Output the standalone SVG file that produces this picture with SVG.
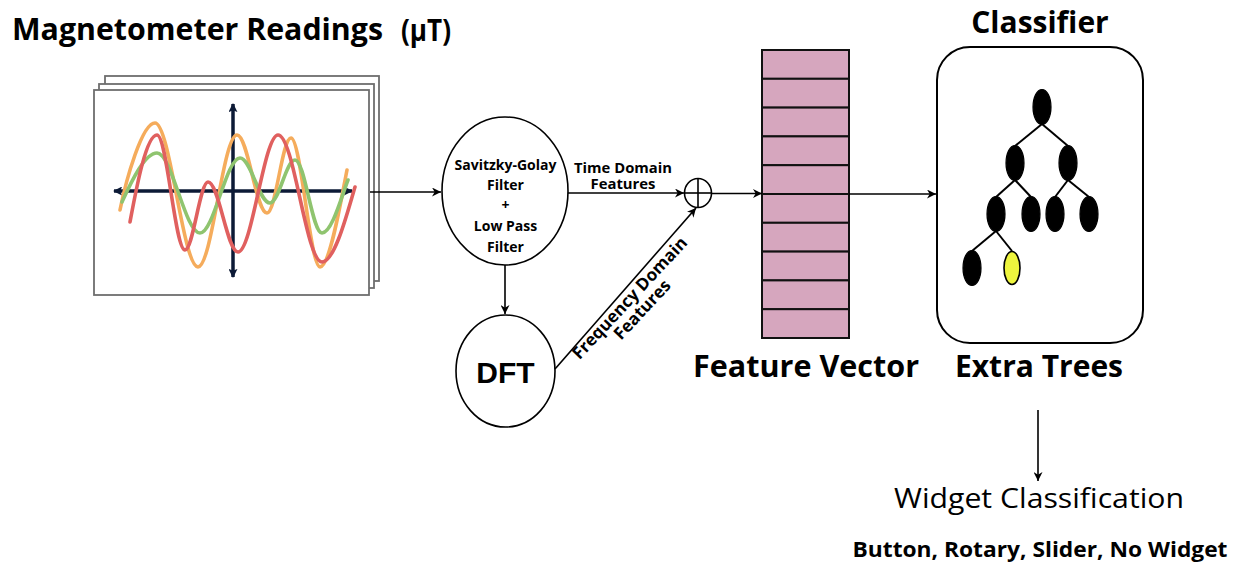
<svg xmlns="http://www.w3.org/2000/svg" width="1239" height="565" viewBox="0 0 1239 565">
  <style>
    .lbl { font-family: "Open Sans", "Liberation Sans", sans-serif; font-weight: 700; fill: #000; }
    .reg { font-family: "Open Sans", "Liberation Sans", sans-serif; font-weight: 400; fill: #000; }
    .edge { stroke: #000; stroke-width: 1.6; fill: none; }
    .node { stroke: #000; stroke-width: 1.6; fill: #fff; }
    .sheet { fill: #fff; stroke: #6e6e6e; stroke-width: 1.8; }
    .wave { fill: none; stroke-width: 3.6; stroke-linecap: round; }
    .cell { fill: #d6a6be; stroke: #111; stroke-width: 2; }
    .leaf { fill: #000; stroke: #000; stroke-width: 1.2; }
    .branch { stroke: #000; stroke-width: 2; }
  </style>
  <defs>
    <marker id="ah" viewBox="0 0 10 10" refX="10" refY="5" markerWidth="10" markerHeight="9" orient="auto" markerUnits="userSpaceOnUse">
      <path d="M0,0 L10,5 L0,10 L3,5 Z" fill="#000"/>
    </marker>
    <marker id="axh" viewBox="0 0 10 10" refX="9" refY="5" markerWidth="9" markerHeight="9" orient="auto-start-reverse" markerUnits="userSpaceOnUse">
      <path d="M0,0 L10,5 L0,10 L2,5 Z" fill="#0c1a36"/>
    </marker>
  </defs>

  <!-- Title -->
  <text class="lbl" x="12" y="40" font-size="30" textLength="371" lengthAdjust="spacingAndGlyphs">Magnetometer Readings</text>
  <text class="lbl" x="401" y="41" font-size="30" textLength="50" lengthAdjust="spacingAndGlyphs">(μT)</text>

  <!-- Stacked signal plots -->
  <g id="signal-plot">
    <rect class="sheet" x="105" y="76" width="274" height="205"/>
    <rect class="sheet" x="99" y="84" width="275" height="204"/>
    <rect class="sheet" x="94" y="90" width="275" height="205"/>
    <line x1="114" y1="191" x2="352" y2="191" stroke="#0c1a36" stroke-width="3.5" marker-start="url(#axh)" marker-end="url(#axh)"/>
    <line x1="233" y1="104" x2="233" y2="277" stroke="#0c1a36" stroke-width="3.5" marker-start="url(#axh)" marker-end="url(#axh)"/>
    <path class="wave" stroke="#f5ac5c" d="M120,210 C126,180 142,123 155,123 C170,123 183,267 198,267 C212,267 223,135 237,135 C248,135 256,213 267,213 C276,213 282,138 291,138 C301,138 310,267 320,267 C330,267 341,200 347,170"/>
    <path class="wave" stroke="#8fc46f" d="M122,202 C132,180 145,153 157,153 C172,153 185,233 200,233 C214,233 226,158 240,158 C251,158 259,203 270,203 C279,203 286,160 295,160 C305,160 312,233 322,233 C332,233 342,195 348,180"/>
    <path class="wave" stroke="#e0605f" d="M130,222 C136,190 146,135 157,135 C167,135 175,250 185,250 C193,250 200,182 208,182 C219,182 227,252 238,252 C252,252 264,135 278,135 C294,135 306,262 322,262 C335,262 348,210 355,187"/>
  </g>

  <!-- Filtering stage -->
  <g id="filter">
    <ellipse class="node" cx="505" cy="191" rx="63" ry="74"/>
    <g class="lbl" font-size="14" text-anchor="middle">
      <text x="505.5" y="170">Savitzky-Golay</text>
      <text x="505.5" y="190">Filter</text>
      <text x="505.5" y="210">+</text>
      <text x="505.5" y="231">Low Pass</text>
      <text x="505.5" y="252">Filter</text>
    </g>
  </g>

  <!-- DFT stage -->
  <g id="dft">
    <ellipse class="node" cx="505.5" cy="371" rx="49.5" ry="56"/>
    <text x="505.5" y="383" font-family="Liberation Sans, Arial, sans-serif" font-weight="700" font-size="30" text-anchor="middle">DFT</text>
  </g>

  <!-- Summation node -->
  <g id="sum">
    <ellipse class="node" cx="698" cy="193" rx="13.5" ry="14.5"/>
    <line class="edge" x1="684.5" y1="193" x2="711.5" y2="193"/>
    <line class="edge" x1="698" y1="178.5" x2="698" y2="207.5"/>
  </g>

  <!-- Feature vector -->
  <g id="feature-vector">
    <rect class="cell" x="762" y="50" width="87" height="28.8"/>
    <rect class="cell" x="762" y="78.8" width="87" height="28.8"/>
    <rect class="cell" x="762" y="107.6" width="87" height="28.8"/>
    <rect class="cell" x="762" y="136.4" width="87" height="28.8"/>
    <rect class="cell" x="762" y="165.2" width="87" height="28.8"/>
    <rect class="cell" x="762" y="194" width="87" height="28.8"/>
    <rect class="cell" x="762" y="222.8" width="87" height="28.8"/>
    <rect class="cell" x="762" y="251.6" width="87" height="28.8"/>
    <rect class="cell" x="762" y="280.4" width="87" height="28.8"/>
    <rect class="cell" x="762" y="309.2" width="87" height="28.8"/>
    <text class="lbl" x="806" y="377" font-size="30" text-anchor="middle" textLength="226" lengthAdjust="spacingAndGlyphs">Feature Vector</text>
  </g>

  <!-- Classifier -->
  <g id="classifier">
    <text class="lbl" x="1040" y="33" font-size="30" text-anchor="middle">Classifier</text>
    <rect x="937" y="47" width="206" height="296" rx="33" ry="33" fill="#fff" stroke="#000" stroke-width="2"/>
    <g class="branch">
      <line x1="1042" y1="124" x2="1015" y2="146"/>
      <line x1="1042" y1="124" x2="1068" y2="146"/>
      <line x1="1015" y1="180" x2="996" y2="197"/>
      <line x1="1015" y1="180" x2="1031" y2="197"/>
      <line x1="1068" y1="180" x2="1055" y2="197"/>
      <line x1="1068" y1="180" x2="1089" y2="197"/>
      <line x1="996" y1="231" x2="972" y2="251"/>
      <line x1="996" y1="231" x2="1012" y2="251"/>
    </g>
    <ellipse class="leaf" cx="1042" cy="107" rx="9" ry="17.5"/>
    <ellipse class="leaf" cx="1015" cy="163" rx="9" ry="17.5"/>
    <ellipse class="leaf" cx="1068" cy="163" rx="9" ry="17.5"/>
    <ellipse class="leaf" cx="996" cy="214" rx="9" ry="17.5"/>
    <ellipse class="leaf" cx="1031" cy="214" rx="9" ry="17.5"/>
    <ellipse class="leaf" cx="1055" cy="214" rx="9" ry="17.5"/>
    <ellipse class="leaf" cx="1089" cy="214" rx="9" ry="17.5"/>
    <ellipse class="leaf" cx="972" cy="268" rx="9" ry="17.5"/>
    <ellipse cx="1012" cy="268" rx="8" ry="16.5" fill="#eef53e" stroke="#000" stroke-width="1.6"/>
    <text class="lbl" x="1039" y="377" font-size="30" text-anchor="middle">Extra Trees</text>
  </g>

  <!-- Output -->
  <g id="output">
    <text class="reg" x="1039" y="508" font-size="28" text-anchor="middle" textLength="290" lengthAdjust="spacingAndGlyphs">Widget Classification</text>
    <text class="lbl" x="1040" y="557" font-size="21" text-anchor="middle" textLength="375" lengthAdjust="spacingAndGlyphs">Button, Rotary, Slider, No Widget</text>
  </g>

  <!-- Connectors -->
  <g id="connectors">
    <line class="edge" x1="370" y1="192" x2="441" y2="192" marker-end="url(#ah)"/>
    <line class="edge" x1="568" y1="193" x2="684" y2="193" marker-end="url(#ah)"/>
    <line class="edge" x1="505" y1="265" x2="505" y2="314" marker-end="url(#ah)"/>
    <line class="edge" x1="555" y1="369" x2="696" y2="208" marker-end="url(#ah)"/>
    <line class="edge" x1="711.5" y1="193.5" x2="762" y2="193.5" marker-end="url(#ah)"/>
    <line class="edge" x1="849" y1="194" x2="936" y2="194" marker-end="url(#ah)"/>
    <line class="edge" x1="1038" y1="410" x2="1038" y2="481" marker-end="url(#ah)"/>
    <g class="lbl" font-size="13.5" text-anchor="middle">
      <text x="623" y="172.5" textLength="98" lengthAdjust="spacingAndGlyphs">Time Domain</text>
      <text x="623" y="189" textLength="65" lengthAdjust="spacingAndGlyphs">Features</text>
    </g>
    <g class="lbl" font-size="17" text-anchor="middle" transform="translate(634,302) rotate(-47)">
      <text x="0" y="0">Frequency Domain</text>
      <text x="0" y="17">Features</text>
    </g>
  </g>
</svg>
